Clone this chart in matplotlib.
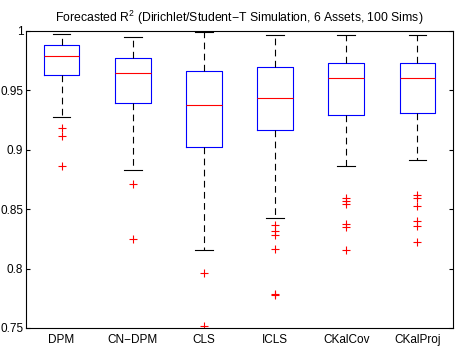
import numpy as np
import matplotlib
matplotlib.use("Agg")
import matplotlib.pyplot as plt
from matplotlib.ticker import FormatStrFormatter

plt.rcParams['font.family'] = ['Liberation Sans', 'DejaVu Sans']
plt.rcParams['mathtext.fontset'] = 'custom'
plt.rcParams['mathtext.rm'] = 'Liberation Sans'
plt.rcParams['mathtext.it'] = 'Liberation Sans:italic'

# values
labels = ['DPM', 'CN\u2212DPM', 'CLS', 'ICLS', 'CKalCov', 'CKalProj']
whislo = [0.9278, 0.8828, 0.8153, 0.8421, 0.8865, 0.8910]
q1 = [0.9626, 0.9393, 0.9025, 0.9168, 0.9289, 0.9309]
med = [0.9787, 0.9646, 0.9376, 0.9438, 0.9600, 0.9600]
q3 = [0.9880, 0.9772, 0.9660, 0.9696, 0.9730, 0.9730]
whishi = [0.9972, 0.9950, 0.9986, 0.9966, 0.9966, 0.9966]
fliers = [
    [0.9185, 0.9112, 0.8862],
    [0.8707, 0.8252],
    [0.7962, 0.7518],
    [0.8370, 0.8314, 0.8280, 0.8165, 0.7785, 0.7780],
    [0.8595, 0.8567, 0.8539, 0.8375, 0.8347, 0.8156],
    [0.8615, 0.8590, 0.8530, 0.8400, 0.8358, 0.8224],
]

stats = []
for i in range(len(labels)):
    stats.append(dict(label=labels[i], whislo=whislo[i], q1=q1[i], med=med[i],
                      q3=q3[i], whishi=whishi[i], fliers=fliers[i]))

fig = plt.figure(figsize=(4.57, 3.47), dpi=100)
ax = fig.add_axes([0.0569, 0.0548, 0.9343, 0.8567])

ax.bxp(stats, widths=0.5, showfliers=True,
       boxprops=dict(color='blue', linewidth=0.8),
       medianprops=dict(color='red', linewidth=0.8),
       whiskerprops=dict(color='black', linestyle=(0, (6, 4)), linewidth=0.8),
       capprops=dict(color='black', linewidth=0.8),
       flierprops=dict(marker='+', markeredgecolor='red', markersize=6,
                       markeredgewidth=0.8, linestyle='none'))

ax.set_xlim(0.5, 6.5)
ax.set_ylim(0.75, 1.0)
ax.set_yticks([0.75, 0.8, 0.85, 0.9, 0.95, 1.0])
ax.yaxis.set_major_formatter(FormatStrFormatter('%g'))
ax.tick_params(axis='y', direction='in', right=True, length=3, labelsize=8.5, pad=2)
ax.tick_params(axis='x', length=0, labelsize=8.5, pad=4)
for s in ax.spines.values():
    s.set_linewidth(0.8)
ax.set_title('Forecasted R$^2$ (Dirichlet/Student\u2212T Simulation, 6 Assets, 100 Sims)',
             fontsize=8.8, pad=6)

fig.savefig('out.png', dpi=100)
